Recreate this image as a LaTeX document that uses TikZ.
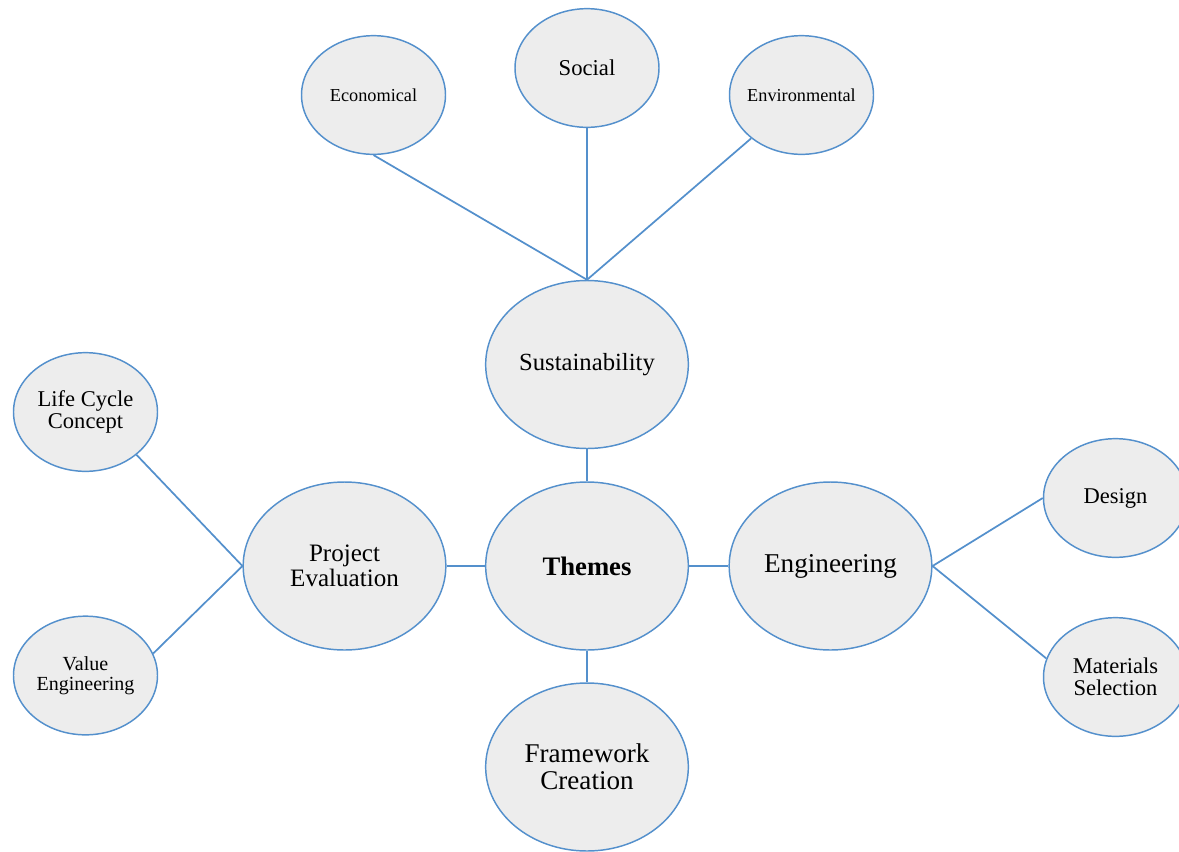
\documentclass[tikz,border=0pt]{standalone}
\usepackage{fontspec}
\setmainfont{Liberation Serif}
\usetikzlibrary{shapes.geometric}
\definecolor{edgeblue}{RGB}{84,144,204}
\definecolor{bubblefill}{RGB}{237,237,237}
\tikzset{
  bubble/.style={ellipse, draw=edgeblue, fill=bubblefill, line width=1.1pt,
    inner sep=0pt, align=center, text=black},
  bigbubble/.style={bubble, minimum width=152pt, minimum height=126pt},
  smallbubble/.style={bubble, minimum width=108pt, minimum height=89pt},
  link/.style={draw=edgeblue, line width=1.3pt},
}
\newcommand{\fs}[1]{\fontsize{#1}{#1}\selectfont}
\begin{document}
\begin{tikzpicture}[x=0.75pt,y=-0.75pt]
\useasboundingbox (0,0) rectangle (1179,851);
\clip (0,0) rectangle (1179,851);

% central theme and its four branches
\node[bigbubble, font=\fs{20pt}\bfseries] (themes) at (587,566) {Themes};
\node[bigbubble, font=\fs{18.5pt}] (sus) at (587,364.5) {Sustainability};
\node[bigbubble, font=\fs{18.8pt}] (pe) at (344.5,566) {Project\\Evaluation};
\node[bigbubble, font=\fs{20.4pt}] (eng) at (830.5,566) {Engineering};
\node[bigbubble, font=\fs{20.3pt}] (fw) at (587,767) {Framework\\Creation};

% sustainability pillars
\node[smallbubble, font=\fs{13.7pt}] (eco) at (373.5,95) {\makebox[60pt]{Economical}};
\node[smallbubble, font=\fs{17pt}] (soc) at (587,68) {Social};
\node[smallbubble, font=\fs{13.7pt}] (env) at (801.5,95) {\makebox[60pt]{Environmental}};

% project evaluation topics
\node[smallbubble, font=\fs{16.9pt}] (lcc) at (85.5,412) {Life Cycle\\Concept};
\node[smallbubble, font=\fs{15pt}] (ve) at (85.5,675.5) {Value\\Engineering};

% engineering topics
\node[smallbubble, font=\fs{16.9pt}] (des) at (1115.5,498) {Design};
\node[smallbubble, font=\fs{16.9pt}] (mat) at (1115.5,677) {Materials\\Selection};

% connectors
\draw[link] (sus) -- (themes);
\draw[link] (pe) -- (themes);
\draw[link] (themes) -- (eng);
\draw[link] (themes) -- (fw);

\draw[link] (eco.south) -- (sus.north);
\draw[link] (soc) -- (sus.north);
\draw[link] (env) -- (sus.north);

\draw[link] (lcc.-40) -- (pe.west);
\draw[link] (ve.18) -- (pe.west);

\draw[link] (eng.east) -- (des.west);
\draw[link] (eng.east) -- (mat.165);
\end{tikzpicture}
\end{document}
